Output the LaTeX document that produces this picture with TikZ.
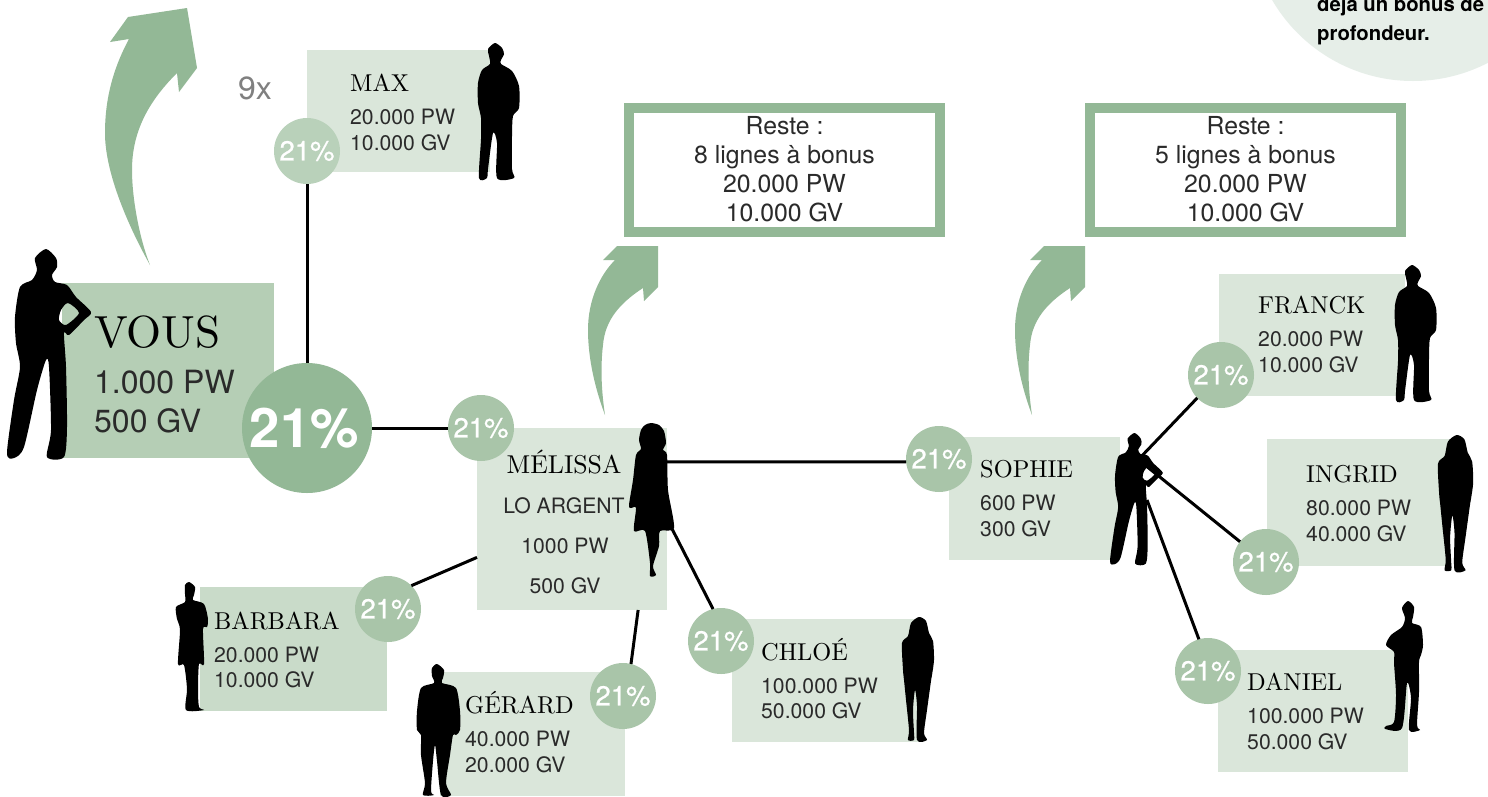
\documentclass[tikz,border=0pt]{standalone}
\usepackage{fontspec}
\usepackage{tikz}
\newfontfamily\heros{TeX Gyre Heros}
\newfontfamily\herosmed{TeX Gyre Heros}[FakeBold=0.7]
\newfontfamily\namefont{lmroman10-regular}[Extension=.otf]
\definecolor{sagedark}{HTML}{93B896}
\definecolor{sagevous}{HTML}{B5CEB5}
\definecolor{sagedot}{HTML}{A9C5A9}
\definecolor{sagelight}{HTML}{B9D1BA}
\definecolor{sagemid}{HTML}{C9DBC9}
\definecolor{sagepale}{HTML}{DAE6DA}
\definecolor{sagemist}{HTML}{E6EEE8}
\definecolor{softink}{HTML}{2A2A2A}
\tikzset{
  personbox/.style={anchor=north west,inner sep=0pt,outer sep=0pt},
  pctdot/.style={circle,fill=sagedot,minimum size=66pt,inner sep=0pt,outer sep=0pt,text=white,font=\herosmed\fontsize{27.5}{27.5}\selectfont},
  nametxt/.style={anchor=base west,inner sep=0pt,font=\namefont\fontsize{24.4}{24.4}\selectfont},
  valtxt/.style={anchor=base west,inner sep=0pt,text=softink,font=\heros\fontsize{21.2}{21.2}\selectfont},
  notetxt/.style={anchor=base west,inner sep=0pt,font=\heros\bfseries\fontsize{20.3}{20.3}\selectfont},
  restebox/.style={draw=sagedark,line width=10pt,minimum width=311pt,minimum height=124pt,inner sep=0pt,align=center,text=softink,font=\heros\fontsize{24.8}{29}\selectfont},
  link/.style={line width=3pt,black},
  figsmooth/.style={smooth cycle,tension=0.45},
  hipfig/.pic={
    \fill[black,even odd rule]
      plot[figsmooth] coordinates {(39,0) (49,9) (50,18) (45,26) (48,33) (60,36) (69,48) (84,63) (77,71) (62,86) (57,84) (59,118) (60,178) (57,208) (40,208) (44,181) (42,118) (39,111) (30,141) (17,198) (7,209) (0,204) (7,151) (13,118) (9,94) (8,68) (13,38) (25,31) (30,21) (28,9)}
      plot[figsmooth] coordinates {(61,54) (72,64) (59,76) (52,71) (54,61)};
  },
  pocketfig/.pic={
    \fill[black] plot[figsmooth] coordinates {(17,0) (24,5) (26,11) (23,17) (23,21) (34,28) (41,43) (41,65) (35,73) (34,93) (34,126) (36,135) (19,135) (19,100) (15,90) (10,126) (9,135) (1,135) (3,96) (3,75) (0,60) (0,40) (4,27) (12,21) (11,13) (10,6)};
  },
  dressfig/.pic={
    \fill[black] plot[figsmooth] coordinates {(22,0) (30,2) (35,8) (37,20) (34,27) (38,32) (39,67) (45,105) (31,108) (30,123) (24,143) (27,152) (21,153) (21,140) (16,108) (5,108) (7,85) (2,85) (0,82) (4,57) (7,32) (12,26) (10,17) (12,7) (16,2)};
  },
  shortdressfig/.pic={
    \fill[black] plot[figsmooth] coordinates {(13,0) (19,5) (18,13) (17,18) (28,22) (32,37) (31,45) (27,47) (28,82) (23,82) (22,107) (23,125) (28,128) (10,128) (11,107) (8,83) (2,82) (4,48) (1,37) (0,25) (9,20) (9,12) (9,3)};
  },
  suitfig/.pic={
    \fill[black] plot[figsmooth] coordinates {(20,0) (27,6) (26,14) (25,19) (39,24) (43,47) (43,66) (39,71) (36,71) (33,91) (29,119) (34,131) (24,131) (20,97) (18,81) (16,97) (14,127) (17,131) (6,131) (8,119) (4,91) (4,71) (0,66) (0,47) (4,24) (17,19) (15,12) (15,4)};
  },
  longhairfig/.pic={
    \fill[black] plot[figsmooth] coordinates {(17,0) (24,4) (27,16) (31,24) (32,43) (30,58) (29,64) (25,93) (22,116) (25,123) (15,123) (15,89) (13,73) (11,93) (12,116) (12,123) (6,123) (7,113) (4,83) (2,63) (1,53) (0,26) (6,19) (9,6)};
  },
  crossedfig/.pic={
    \fill[black] plot[figsmooth] coordinates {(23,0) (29,6) (28,16) (27,22) (36,26) (38,44) (36,54) (34,61) (34,91) (32,124) (35,129) (24,129) (26,97) (22,82) (17,127) (0,128) (1,125) (9,121) (11,94) (9,62) (9,51) (1,44) (6,34) (17,26) (20,17) (17,7)};
  },
  bonusarrow/.pic={
    \fill[sagedark] (0,0) .. controls (-15,-40) and (-17,-70) .. (-17,-85) .. controls (-17,-115) and (-5,-140) .. (10,-155) -- (-2,-155) -- (12,-169) -- (53,-169) -- (53,-128) -- (39,-114) -- (38,-127) .. controls (15,-112) and (0,-95) .. (-2,-70) .. controls (-5,-45) and (-3,-20) .. (0,0) -- cycle;
  }
}
\begin{document}
\begin{tikzpicture}[x=1pt,y=-1pt]
  \useasboundingbox (0,0) rectangle (1488,796);
  \clip (0,0) rectangle (1488,796);
  \fill[white] (0,0) rectangle (1488,796);

  % top right note
  \fill[sagemist] (1413,-82) circle (163);
  \node[notetxt] (notea) at (1317,11) {déjà un bonus de};
  \node[notetxt] (noteb) at (1317,40) {profondeur.};

  % boxes
  \node[personbox,fill=sagevous,minimum width=212pt,minimum height=175pt] (vousbox) at (62,283) {};
  \node[personbox,fill=sagepale,minimum width=183pt,minimum height=122pt] (maxbox) at (307,50) {};
  \node[personbox,fill=sagepale,minimum width=190pt,minimum height=182pt] (melbox) at (477,428) {};
  \node[personbox,fill=sagepale,minimum width=171pt,minimum height=123pt] (sophbox) at (949,437) {};
  \node[personbox,fill=sagemid,minimum width=187pt,minimum height=124pt] (barbbox) at (200,587) {};
  \node[personbox,fill=sagepale,minimum width=185pt,minimum height=124pt] (gerbox) at (440,672) {};
  \node[personbox,fill=sagepale,minimum width=188pt,minimum height=123pt] (chlobox) at (732,619) {};
  \node[personbox,fill=sagepale,minimum width=186pt,minimum height=122pt] (franbox) at (1219,274) {};
  \node[personbox,fill=sagepale,minimum width=183pt,minimum height=127pt] (ingbox) at (1267,439) {};
  \node[personbox,fill=sagepale,minimum width=190pt,minimum height=122pt] (danbox) at (1218,650) {};

  % circles
  \node[circle,fill=sagedark,minimum size=130pt,inner sep=0pt,outer sep=0pt,text=white,font=\heros\bfseries\fontsize{54.5}{54.5}\selectfont] (bigdot) at (307,428) {21\%\kern5pt};
  \node[pctdot,fill=sagelight] (maxdot) at (307,151) {21\%};
  \node[pctdot] (meldot) at (481,428) {21\%};
  \node[pctdot] (sophdot) at (939,459) {21\%};
  \node[pctdot] (barbdot) at (388,609) {21\%};
  \node[pctdot] (gerdot) at (623,696) {21\%};
  \node[pctdot] (chlodot) at (721,641) {21\%};
  \node[pctdot] (frandot) at (1221,375) {21\%};
  \node[pctdot] (ingdot) at (1266,562) {21\%};
  \node[pctdot] (dandot) at (1208,671) {21\%};

  % links
  \coordinate (sophchest) at (1140,461);
  \coordinate (sophhip) at (1147,500);
  \draw[link] (bigdot.north) -- (maxdot.south);
  \draw[link] (bigdot.east) -- (meldot.west);
  \draw[link] (melbox.31) -- (sophdot.185);
  \draw[link] (melbox.202) -- (barbdot.45);
  \draw[link] (melbox.-54) -- (gerdot.76);
  \draw[link] (melbox.east) -- (chlodot.104);
  \draw[link] (sophbox.13) -- (frandot.224);
  \draw[link] (sophchest) -- (ingdot.142);
  \draw[link] (sophhip) -- (dandot.106);

  % arrows
  \fill[sagedark] (150,265) .. controls (125,220) and (105,170) .. (105,133) .. controls (105,95) and (115,65) .. (129,39) -- (110,42) -- (128,17) -- (187,8) -- (197,68) -- (179,92) -- (177,73) .. controls (150,100) and (132,130) .. (132,170) .. controls (132,200) and (140,240) .. (150,265) -- cycle;
  \pic at (605,415) {bonusarrow};
  \pic at (1032,415) {bonusarrow};

  \node[restebox] (restemel) at (784.5,169.5) {Reste :\\8 lignes à bonus\\20.000 PW\\10.000 GV};
  \node[restebox] (restesoph) at (1245.5,169.5) {Reste :\\5 lignes à bonus\\20.000 PW\\10.000 GV};

  % silhouettes
  \pic at (7,249) {hipfig};
  \pic[scale=.628] at (1110,433) {hipfig};
  \pic at (478,43) {pocketfig};
  \pic at (1395,265) {pocketfig};
  \pic at (629,423) {dressfig};
  \pic at (176,582) {shortdressfig};
  \pic at (417,664) {suitfig};
  \pic at (902,617) {longhairfig};
  \pic[scale=1.1] at (1438,435) {longhairfig};
  \pic at (1385,601) {crossedfig};

  % texts
  \node[anchor=base west,inner sep=0pt,text=gray,font=\heros\fontsize{32}{32}\selectfont] (ninex) at (238,99) {9x};
  \node[anchor=base west,inner sep=0pt,font=\namefont\fontsize{45}{45}\selectfont] (vousname) at (94,347) {VOUS};
  \node[valtxt,font=\heros\fontsize{32}{32}\selectfont] (vouspw) at (94,393) {1.000 PW};
  \node[valtxt,font=\heros\fontsize{32}{32}\selectfont] (vousgv) at (94,432) {500 GV};

  \node[nametxt] (maxname) at (350,91) {MAX};
  \node[valtxt] (maxpw) at (350,124) {20.000 PW};
  \node[valtxt] (maxgv) at (350,150) {10.000 GV};

  \node[nametxt,anchor=base,font=\namefont\fontsize{25.8}{25.8}\selectfont] (melname) at (564,473) {MÉLISSA};
  \node[valtxt,anchor=base] (melrank) at (564,513) {LO ARGENT};
  \node[valtxt,anchor=base] (melpw) at (565,553) {1000 PW};
  \node[valtxt,anchor=base] (melgv) at (565,593) {500 GV};

  \node[nametxt] (sophname) at (980,477) {SOPHIE};
  \node[valtxt] (sophpw) at (980,510) {600 PW};
  \node[valtxt] (sophgv) at (980,536) {300 GV};

  \node[nametxt] (barbname) at (214,629) {BARBARA};
  \node[valtxt] (barbpw) at (214,662) {20.000 PW};
  \node[valtxt] (barbgv) at (214,687) {10.000 GV};

  \node[nametxt] (gername) at (465,713) {GÉRARD};
  \node[valtxt] (gerpw) at (465,746) {40.000 PW};
  \node[valtxt] (gergv) at (465,772) {20.000 GV};

  \node[nametxt] (chloname) at (761,660) {CHLOÉ};
  \node[valtxt] (chlopw) at (761,693) {100.000 PW};
  \node[valtxt] (chlogv) at (761,718) {50.000 GV};

  \node[nametxt] (franname) at (1258,313) {FRANCK};
  \node[valtxt] (franpw) at (1258,346) {20.000 PW};
  \node[valtxt] (frangv) at (1258,372) {10.000 GV};

  \node[nametxt] (ingname) at (1306,482) {INGRID};
  \node[valtxt] (ingpw) at (1306,515) {80.000 PW};
  \node[valtxt] (inggv) at (1306,541) {40.000 GV};

  \node[nametxt] (danname) at (1247,690) {DANIEL};
  \node[valtxt] (danpw) at (1247,723) {100.000 PW};
  \node[valtxt] (dangv) at (1247,749) {50.000 GV};
\end{tikzpicture}
\end{document}
